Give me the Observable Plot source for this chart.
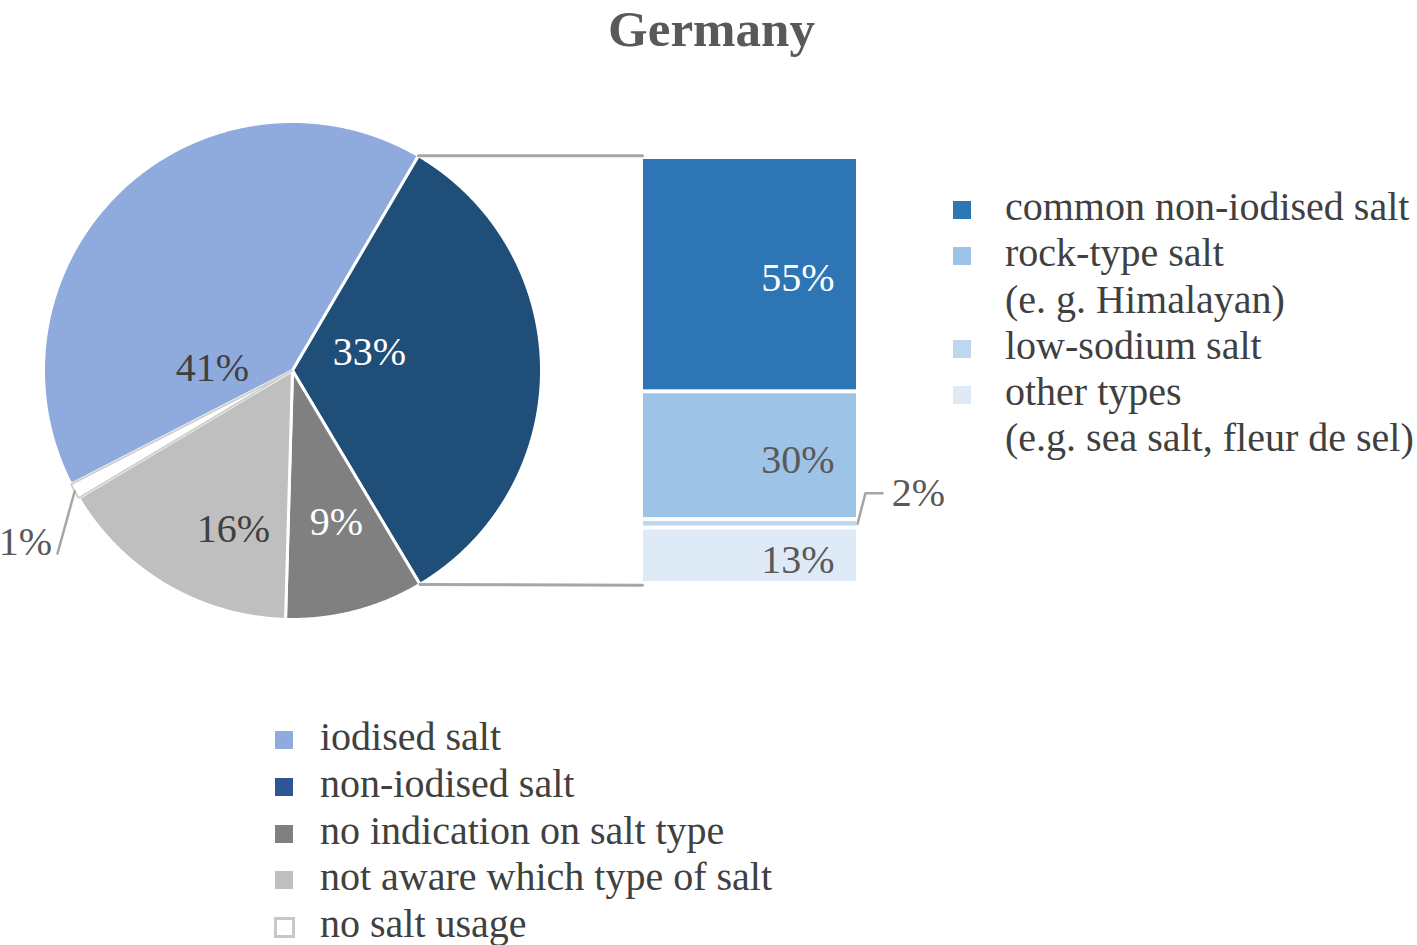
<!DOCTYPE html>
<html>
<head>
<meta charset="utf-8">
<script src="https://cdn.jsdelivr.net/npm/d3@7"></script>
<script src="https://cdn.jsdelivr.net/npm/@observablehq/plot@0.6"></script>
<style>
  body { margin: 0; background: #fff; }
  #wrap { position: relative; width: 1417px; height: 945px; overflow: hidden; background: #fff;
          font-family: "Liberation Serif", "Times New Roman", serif; }
  #title { position: absolute; left: 0; top: 0px; width: 1417px; text-align: center;
           font-weight: bold; font-size: 51px; line-height: normal; color: #595959; padding-left: 6px; box-sizing: border-box; }
  #chart { position: absolute; left: 0; top: 55px; }
  .legend { position: absolute; font-size: 40px; color: #404040; white-space: nowrap; }
  .legend .row { position: relative; }
  .legend .sw { position: absolute; left: 0; width: 18px; height: 18px; box-sizing: border-box; }
</style>
</head>
<body>
<div id="wrap">
  <div id="title">Germany</div>
  <div id="chart"></div>
  <div id="legendRight" class="legend" style="left:953px; top:184px; line-height:46.25px;"></div>
  <div id="legendBottom" class="legend" style="left:275px; top:714px; line-height:46.75px;"></div>
</div>
<script>
// ---------- data ----------
const pieCategories = ["iodised salt", "non-iodised salt", "no indication on salt type", "not aware which type of salt", "no salt usage"];
const pieValues = [41, 33, 9, 16, 1];
const pieColors = ["#8faadc", "#1f4e79", "#808080", "#bfbfbf", "#ffffff"];
const pieLegendColors = ["#8faadc", "#2f5597", "#808080", "#bfbfbf", "#ffffff"];
const pieLabelColors = ["#404040", "#ffffff", "#ffffff", "#404040", "#595959"];

const barCategories = ["common non-iodised salt", "rock-type salt|(e. g. Himalayan)", "low-sodium salt", "other types|(e.g. sea salt, fleur de sel)"];
const barValues = [55, 30, 2, 13];
const barColors = ["#2e75b6", "#9dc3e6", "#bdd7ee", "#deebf7"];
const barLabelColors = ["#ffffff", "#595959", "#595959", "#595959"];

// ---------- layout ----------
const W = 1417, H = 600, PX = 4.26;          // pixels per unit (bar = 100 units tall)
const barLeftPx = 643, barBasePx = 528;
const xDomain = [-barLeftPx / PX, (W - barLeftPx) / PX];
const yDomain = [-(H - barBasePx) / PX, barBasePx / PX];
const barWidth = 213 / PX;
const pieCx = (292 - 643) / PX, pieCy = 50, pieR = 249 / PX;
const startDeg = 242.8;
// label placement relative to pie centre (pixels, y up)
const pieLabelOffsets = [[-80, 2.5], [77, 18.5], [44, -151.5], [-59, -158.5], [-267, -171.5]];
const serif = "Liberation Serif";
const FS = 40;

// ---------- pie geometry ----------
const a0 = startDeg * Math.PI / 180;
const arcs = d3.pie().sort(null).startAngle(a0).endAngle(a0 + 2 * Math.PI)(pieValues);
const polar = (t, r) => ({x: pieCx + r * Math.sin(t), y: pieCy + r * Math.cos(t)});
const slices = arcs.map((a, i) => {
  const pts = [{x: pieCx, y: pieCy}];
  const n = Math.max(4, Math.ceil((a.endAngle - a.startAngle) / 0.004));
  for (let k = 0; k <= n; k++) pts.push(polar(a.startAngle + (a.endAngle - a.startAngle) * k / n, pieR));
  return pts;
});
const pieLabels = pieCategories.map((c, i) => ({
  text: pieValues[i] + "%",
  x: pieCx + pieLabelOffsets[i][0] / PX,
  y: pieCy + pieLabelOffsets[i][1] / PX,
  color: pieLabelColors[i]
}));
// leader for small slice (no salt usage)
const small = arcs[4];
const smallMid = (small.startAngle + small.endAngle) / 2;
const leader1 = [polar(smallMid, pieR), {x: pieCx - 235 / PX, y: pieCy - 183 / PX}];

// connectors from the non-iodised slice to the bar
const ni = arcs[1];
const connTop = [polar(ni.startAngle, pieR), {x: -1 / PX, y: d3.sum(barValues) + 0.4}];
const connBot = [polar(ni.endAngle, pieR), {x: -1 / PX, y: -0.4}];

// ---------- bar ----------
const barData = barCategories.map((c, i) => ({cat: c, value: barValues[i], color: barColors[i], lc: barLabelColors[i]}));
const below2 = d3.sum(barValues.slice(3)); // segments stacked under the 2% one
const mid2 = below2 + barValues[2] / 2;
const leader2 = [{x: barWidth + 1 / PX, y: mid2}, {x: barWidth + 9 / PX, y: mid2 + 7.2}, {x: barWidth + 26 / PX, y: mid2 + 7.2}];

const marks = [];
slices.forEach((pts, i) => {
  if (i === 4) return;
  marks.push(Plot.line(pts, {x: "x", y: "y", curve: "linear-closed", fill: pieColors[i], stroke: "#ffffff", strokeWidth: 3, strokeLinejoin: "round"}));
});
marks.push(Plot.line(slices[4], {x: "x", y: "y", curve: "linear-closed", fill: pieColors[4], stroke: "#d0d0d0", strokeWidth: 2, strokeLinejoin: "miter"}));
marks.push(Plot.line(connTop, {x: "x", y: "y", stroke: "#a6a6a6", strokeWidth: 3}));
marks.push(Plot.line(connBot, {x: "x", y: "y", stroke: "#a6a6a6", strokeWidth: 3}));
marks.push(Plot.line(leader1, {x: "x", y: "y", stroke: "#a6a6a6", strokeWidth: 2.5}));
marks.push(Plot.line(leader2, {x: "x", y: "y", stroke: "#a6a6a6", strokeWidth: 2.5}));
marks.push(Plot.rectY(barData, Plot.stackY({x1: 0, x2: barWidth, y: "value", fill: d => d.color, reverse: true, insetTop: 2, insetBottom: 2})));
marks.push(Plot.text(barData, Plot.stackY({
  x: barWidth - 22 / PX, y: "value", reverse: true,
  text: d => d.value >= 5 ? d.value + "%" : null,
  fill: d => d.lc, textAnchor: "end", dy: 4, fontSize: FS, fontFamily: serif
})));
marks.push(Plot.text([barData[2]], {
  x: barWidth + 62 / PX, y: mid2 + 7.2, text: d => d.value + "%", fill: d => d.lc,
  fontSize: FS, fontFamily: serif
}));
marks.push(Plot.text(pieLabels, {x: "x", y: "y", text: "text", fill: "color", fontSize: FS, fontFamily: serif}));

const chart = Plot.plot({
  width: W, height: H,
  marginTop: 0, marginRight: 0, marginBottom: 0, marginLeft: 0,
  x: {domain: xDomain, axis: null},
  y: {domain: yDomain, axis: null},
  color: {type: "identity"},
  style: {background: "transparent", overflow: "visible"},
  marks
});
document.getElementById("chart").appendChild(chart);

// ---------- legends ----------
function legend(el, names, colors, borders) {
  names.forEach((n, i) => {
    const lines = n.split("|");
    const row = document.createElement("div");
    row.className = "row";
    const sw = document.createElement("div");
    sw.className = "sw";
    sw.style.top = "17px";
    sw.style.background = colors[i];
    if (borders && borders[i]) { sw.style.border = "3px solid " + borders[i]; sw.style.width = "21px"; sw.style.height = "21px"; sw.style.left = "-1px"; sw.style.top = "16px"; }
    row.appendChild(sw);
    lines.forEach(l => {
      const t = document.createElement("div");
      t.style.paddingLeft = el.dataset.pad + "px";
      t.textContent = l;
      row.appendChild(t);
    });
    el.appendChild(row);
  });
}
const lr = document.getElementById("legendRight"); lr.dataset.pad = 52;
const lb = document.getElementById("legendBottom"); lb.dataset.pad = 45;
legend(lr, barCategories, barColors, null);
legend(lb, pieCategories, pieLegendColors, [null, null, null, null, "#c8c8c8"]);
</script>
</body>
</html>
